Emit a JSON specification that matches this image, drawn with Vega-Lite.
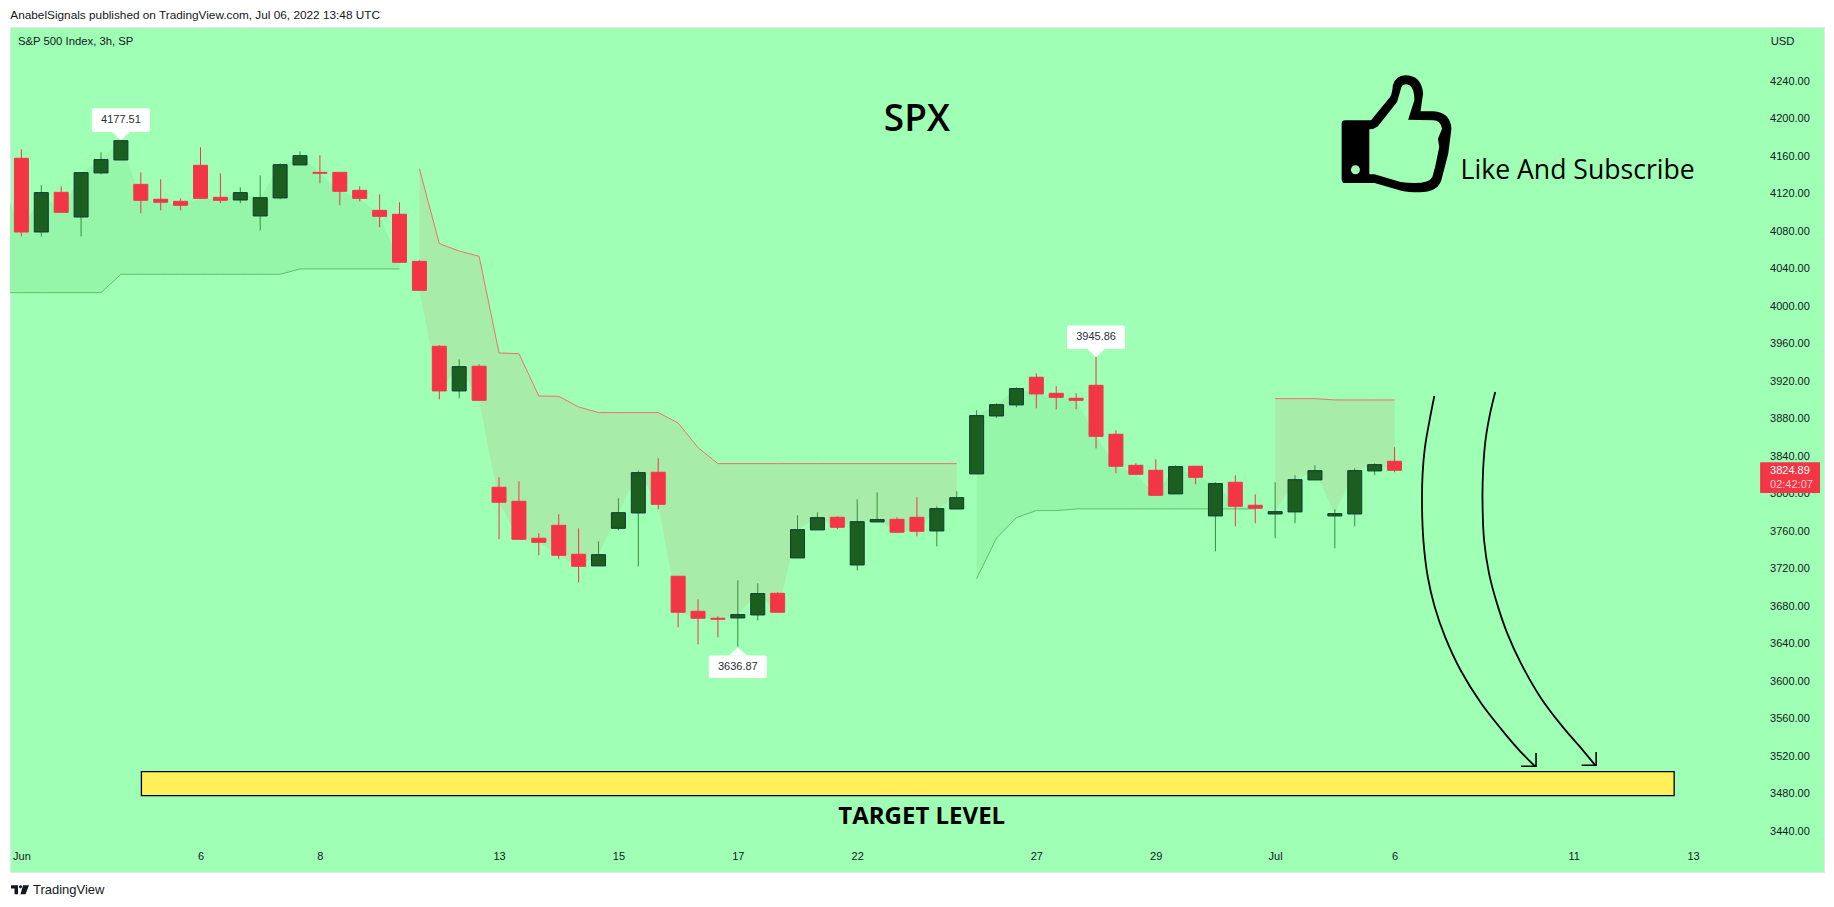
{"$schema":"https://vega.github.io/schema/vega-lite/v6.json","width":1814,"height":845,"autosize":{"type":"none"},"padding":{"left":10,"top":27,"right":10,"bottom":35},"background":"#ffffff","view":{"fill":"#9fffb5","stroke":"#e4e7ea"},
"datasets":{
"candles":[
{"i":0,"o":4157.6,"h":4167.2,"l":4074.4,"c":4079.0,"dir":"down"},{"i":1,"o":4079.0,"h":4128.8,"l":4074.4,"c":4121.0,"dir":"up"},{"i":2,"o":4121.3,"h":4127.7,"l":4100.0,"c":4100.0,"dir":"down"},{"i":3,"o":4095.0,"h":4142.3,"l":4074.4,"c":4142.3,"dir":"up"},{"i":4,"o":4142.0,"h":4164.0,"l":4140.5,"c":4156.2,"dir":"up"},{"i":5,"o":4155.8,"h":4177.51,"l":4155.8,"c":4176.4,"dir":"up"},{"i":6,"o":4129.8,"h":4142.6,"l":4098.9,"c":4112.8,"dir":"down"},{"i":7,"o":4113.9,"h":4135.2,"l":4102.1,"c":4110.7,"dir":"down"},{"i":8,"o":4111.7,"h":4114.9,"l":4102.1,"c":4107.5,"dir":"down"},{"i":9,"o":4150.1,"h":4169.3,"l":4114.9,"c":4114.9,"dir":"down"},{"i":10,"o":4116.0,"h":4141.6,"l":4109.6,"c":4112.8,"dir":"down"},{"i":11,"o":4113.1,"h":4126.6,"l":4109.6,"c":4121.0,"dir":"up"},{"i":12,"o":4096.1,"h":4139.4,"l":4080.8,"c":4115.6,"dir":"up"},{"i":13,"o":4115.3,"h":4152.2,"l":4113.9,"c":4150.8,"dir":"up"},{"i":14,"o":4150.5,"h":4165.0,"l":4150.5,"c":4160.4,"dir":"up"},{"i":15,"o":4142.6,"h":4160.8,"l":4130.9,"c":4141.6,"dir":"down"},{"i":16,"o":4142.6,"h":4142.6,"l":4107.5,"c":4122.4,"dir":"down"},{"i":17,"o":4123.4,"h":4127.7,"l":4111.7,"c":4114.9,"dir":"down"},{"i":18,"o":4102.1,"h":4119.2,"l":4084.0,"c":4095.7,"dir":"down"},{"i":19,"o":4097.9,"h":4110.7,"l":4046.7,"c":4046.7,"dir":"down"},{"i":20,"o":4047.7,"h":4048.8,"l":4016.8,"c":4016.8,"dir":"down"},
{"i":21,"o":3957.1,"h":3958.2,"l":3900.6,"c":3909.5,"dir":"down"},{"i":22,"o":3909.5,"h":3943.2,"l":3901.7,"c":3935.4,"dir":"up"},{"i":23,"o":3935.8,"h":3937.9,"l":3899.5,"c":3899.5,"dir":"down"},{"i":24,"o":3806.8,"h":3817.4,"l":3751.3,"c":3790.8,"dir":"down"},{"i":25,"o":3791.8,"h":3813.1,"l":3751.3,"c":3751.3,"dir":"down"},{"i":26,"o":3752.4,"h":3757.7,"l":3734.2,"c":3748.1,"dir":"down"},{"i":27,"o":3766.2,"h":3778.0,"l":3730.0,"c":3734.2,"dir":"down"},{"i":28,"o":3735.3,"h":3763.0,"l":3705.4,"c":3722.5,"dir":"down"},{"i":29,"o":3722.9,"h":3749.2,"l":3722.9,"c":3734.9,"dir":"up"},{"i":30,"o":3763.0,"h":3795.0,"l":3760.9,"c":3779.7,"dir":"up"},{"i":31,"o":3779.4,"h":3824.9,"l":3722.5,"c":3822.4,"dir":"up"},{"i":32,"o":3822.8,"h":3837.7,"l":3783.3,"c":3788.6,"dir":"down"},{"i":33,"o":3711.9,"h":3711.9,"l":3657.5,"c":3673.5,"dir":"down"},{"i":34,"o":3674.5,"h":3687.3,"l":3639.3,"c":3667.1,"dir":"down"},{"i":35,"o":3667.1,"h":3669.2,"l":3646.8,"c":3666.0,"dir":"down"},{"i":36,"o":3667.4,"h":3707.6,"l":3636.87,"c":3671.0,"dir":"up"},{"i":37,"o":3670.6,"h":3704.4,"l":3664.9,"c":3693.4,"dir":"up"},{"i":38,"o":3693.7,"h":3694.8,"l":3673.5,"c":3673.5,"dir":"down"},{"i":39,"o":3731.4,"h":3776.9,"l":3731.4,"c":3761.6,"dir":"up"},{"i":40,"o":3761.3,"h":3780.1,"l":3761.3,"c":3774.4,"dir":"up"},{"i":41,"o":3774.8,"h":3775.8,"l":3762.0,"c":3764.1,"dir":"down"},{"i":42,"o":3723.9,"h":3794.0,"l":3718.2,"c":3770.1,"dir":"up"},{"i":43,"o":3769.8,"h":3801.4,"l":3769.8,"c":3772.3,"dir":"up"},{"i":44,"o":3772.6,"h":3774.8,"l":3758.8,"c":3758.8,"dir":"down"},{"i":45,"o":3774.8,"h":3796.1,"l":3754.5,"c":3759.8,"dir":"down"},{"i":46,"o":3760.2,"h":3786.5,"l":3743.8,"c":3784.0,"dir":"up"},{"i":47,"o":3783.6,"h":3802.5,"l":3783.6,"c":3795.7,"dir":"up"},
{"i":48,"o":3821.0,"h":3888.9,"l":3821.0,"c":3883.2,"dir":"up"},{"i":49,"o":3882.8,"h":3896.3,"l":3880.7,"c":3894.9,"dir":"up"},{"i":50,"o":3894.6,"h":3913.4,"l":3892.1,"c":3912.0,"dir":"up"},{"i":51,"o":3924.1,"h":3928.3,"l":3891.0,"c":3906.3,"dir":"down"},{"i":52,"o":3907.0,"h":3914.5,"l":3889.9,"c":3902.7,"dir":"down"},{"i":53,"o":3901.7,"h":3907.0,"l":3889.9,"c":3899.5,"dir":"down"},{"i":54,"o":3915.5,"h":3945.86,"l":3848.3,"c":3861.1,"dir":"down"},{"i":55,"o":3863.3,"h":3867.5,"l":3821.7,"c":3829.2,"dir":"down"},{"i":56,"o":3830.2,"h":3832.4,"l":3820.6,"c":3820.6,"dir":"down"},{"i":57,"o":3824.9,"h":3836.6,"l":3798.2,"c":3798.2,"dir":"down"},{"i":58,"o":3799.7,"h":3830.2,"l":3799.7,"c":3828.8,"dir":"up"},{"i":59,"o":3829.2,"h":3829.2,"l":3810.0,"c":3817.4,"dir":"down"},{"i":60,"o":3776.2,"h":3812.1,"l":3738.5,"c":3810.7,"dir":"up"},{"i":61,"o":3812.1,"h":3819.6,"l":3765.2,"c":3786.5,"dir":"down"},{"i":62,"o":3787.6,"h":3799.3,"l":3768.4,"c":3784.4,"dir":"down"},{"i":63,"o":3778.3,"h":3812.1,"l":3752.4,"c":3780.8,"dir":"up"},{"i":64,"o":3780.5,"h":3819.6,"l":3768.4,"c":3814.9,"dir":"up"},{"i":65,"o":3814.6,"h":3830.2,"l":3814.6,"c":3824.5,"dir":"up"},{"i":66,"o":3776.2,"h":3783.3,"l":3741.7,"c":3778.7,"dir":"up"},{"i":67,"o":3778.3,"h":3827.0,"l":3765.2,"c":3824.5,"dir":"up"},{"i":68,"o":3824.2,"h":3832.4,"l":3819.6,"c":3830.9,"dir":"up"},{"i":69,"o":3834.5,"h":3849.4,"l":3822.8,"c":3824.89,"dir":"down"}],
"bands":[
{"i":-0.573,"st":4014.3,"close":4110,"seg":1,"trend":"up"},{"i":0,"st":4014.3,"close":4079.0,"seg":1,"trend":"up"},{"i":1,"st":4014.3,"close":4121.0,"seg":1,"trend":"up"},{"i":2,"st":4014.3,"close":4100.0,"seg":1,"trend":"up"},{"i":3,"st":4014.3,"close":4142.3,"seg":1,"trend":"up"},{"i":4,"st":4014.3,"close":4156.2,"seg":1,"trend":"up"},{"i":5,"st":4033.9,"close":4176.4,"seg":1,"trend":"up"},{"i":6,"st":4033.9,"close":4112.8,"seg":1,"trend":"up"},{"i":7,"st":4033.9,"close":4110.7,"seg":1,"trend":"up"},{"i":8,"st":4033.9,"close":4107.5,"seg":1,"trend":"up"},{"i":9,"st":4033.9,"close":4114.9,"seg":1,"trend":"up"},{"i":10,"st":4033.9,"close":4112.8,"seg":1,"trend":"up"},{"i":11,"st":4033.9,"close":4121.0,"seg":1,"trend":"up"},{"i":12,"st":4033.9,"close":4115.6,"seg":1,"trend":"up"},{"i":13,"st":4033.9,"close":4150.8,"seg":1,"trend":"up"},{"i":14,"st":4039.6,"close":4160.4,"seg":1,"trend":"up"},{"i":15,"st":4039.6,"close":4141.6,"seg":1,"trend":"up"},{"i":16,"st":4039.6,"close":4122.4,"seg":1,"trend":"up"},{"i":17,"st":4039.6,"close":4114.9,"seg":1,"trend":"up"},{"i":18,"st":4039.6,"close":4095.7,"seg":1,"trend":"up"},{"i":19,"st":4039.6,"close":4046.7,"seg":1,"trend":"up"},
{"i":20,"st":4146.5,"close":4016.8,"seg":2,"trend":"down"},{"i":21,"st":4066.6,"close":3909.5,"seg":2,"trend":"down"},{"i":22,"st":4058.7,"close":3935.4,"seg":2,"trend":"down"},{"i":23,"st":4053.1,"close":3899.5,"seg":2,"trend":"down"},{"i":24,"st":3950.0,"close":3790.8,"seg":2,"trend":"down"},{"i":25,"st":3949.3,"close":3751.3,"seg":2,"trend":"down"},{"i":26,"st":3904.1,"close":3748.1,"seg":2,"trend":"down"},{"i":27,"st":3903.8,"close":3734.2,"seg":2,"trend":"down"},{"i":28,"st":3892.4,"close":3722.5,"seg":2,"trend":"down"},{"i":29,"st":3886.4,"close":3734.9,"seg":2,"trend":"down"},{"i":30,"st":3886.4,"close":3779.7,"seg":2,"trend":"down"},{"i":31,"st":3886.4,"close":3822.4,"seg":2,"trend":"down"},{"i":32,"st":3886.4,"close":3788.6,"seg":2,"trend":"down"},{"i":33,"st":3875.3,"close":3673.5,"seg":2,"trend":"down"},{"i":34,"st":3849.0,"close":3667.1,"seg":2,"trend":"down"},{"i":35,"st":3832.0,"close":3666.0,"seg":2,"trend":"down"},{"i":36,"st":3832.0,"close":3671.0,"seg":2,"trend":"down"},{"i":37,"st":3832.0,"close":3693.4,"seg":2,"trend":"down"},{"i":38,"st":3832.0,"close":3673.5,"seg":2,"trend":"down"},{"i":39,"st":3832.0,"close":3761.6,"seg":2,"trend":"down"},{"i":40,"st":3832.0,"close":3774.4,"seg":2,"trend":"down"},{"i":41,"st":3832.0,"close":3764.1,"seg":2,"trend":"down"},{"i":42,"st":3832.0,"close":3770.1,"seg":2,"trend":"down"},{"i":43,"st":3832.0,"close":3772.3,"seg":2,"trend":"down"},{"i":44,"st":3832.0,"close":3758.8,"seg":2,"trend":"down"},{"i":45,"st":3832.0,"close":3759.8,"seg":2,"trend":"down"},{"i":46,"st":3832.0,"close":3784.0,"seg":2,"trend":"down"},{"i":47,"st":3832.0,"close":3795.7,"seg":2,"trend":"down"},
{"i":48,"st":3709.4,"close":3883.2,"seg":3,"trend":"up"},{"i":49,"st":3752.7,"close":3894.9,"seg":3,"trend":"up"},{"i":50,"st":3774.4,"close":3912.0,"seg":3,"trend":"up"},{"i":51,"st":3781.9,"close":3906.3,"seg":3,"trend":"up"},{"i":52,"st":3781.9,"close":3902.7,"seg":3,"trend":"up"},{"i":53,"st":3783.7,"close":3899.5,"seg":3,"trend":"up"},{"i":54,"st":3783.7,"close":3861.1,"seg":3,"trend":"up"},{"i":55,"st":3783.7,"close":3829.2,"seg":3,"trend":"up"},{"i":56,"st":3783.7,"close":3820.6,"seg":3,"trend":"up"},{"i":57,"st":3783.7,"close":3798.2,"seg":3,"trend":"up"},{"i":58,"st":3783.7,"close":3828.8,"seg":3,"trend":"up"},{"i":59,"st":3783.7,"close":3817.4,"seg":3,"trend":"up"},{"i":60,"st":3783.7,"close":3810.7,"seg":3,"trend":"up"},{"i":61,"st":3783.7,"close":3786.5,"seg":3,"trend":"up"},{"i":62,"st":3783.7,"close":3784.4,"seg":3,"trend":"up"},
{"i":63,"st":3901.3,"close":3780.8,"seg":4,"trend":"down"},{"i":64,"st":3901.3,"close":3814.9,"seg":4,"trend":"down"},{"i":65,"st":3901.3,"close":3824.5,"seg":4,"trend":"down"},{"i":66,"st":3899.9,"close":3778.7,"seg":4,"trend":"down"},{"i":67,"st":3899.9,"close":3824.5,"seg":4,"trend":"down"},{"i":68,"st":3899.9,"close":3830.9,"seg":4,"trend":"down"},{"i":69,"st":3899.9,"close":3823.8,"seg":4,"trend":"down"}],
"callouts":[{"i":5,"i1":3.54,"i2":6.46,"v1":4185.6,"v2":4210.9,"vm":4198.2,"edge":4185.6,"dir":"dn","text":"4177.51"},{"i":54,"i1":52.54,"i2":55.46,"v1":3954.2,"v2":3979.2,"vm":3966.7,"edge":3954.2,"dir":"dn","text":"3945.86"},{"i":36,"i1":34.54,"i2":37.46,"v1":3603.4,"v2":3627.3,"vm":3615.3,"edge":3627.3,"dir":"up","text":"3636.87"}],
"arrows":[
{"a":"L1","k":0,"i":71.0,"v":3904.1},{"a":"L1","k":1,"i":70.76,"v":3878.2},{"a":"L1","k":2,"i":70.53,"v":3849.8},{"a":"L1","k":3,"i":70.41,"v":3821.3},{"a":"L1","k":4,"i":70.38,"v":3789.3},{"a":"L1","k":5,"i":70.45,"v":3750.2},{"a":"L1","k":6,"i":70.67,"v":3711.1},{"a":"L1","k":7,"i":71.02,"v":3679.2},{"a":"L1","k":8,"i":71.54,"v":3647.2},{"a":"L1","k":9,"i":72.32,"v":3611.6},{"a":"L1","k":10,"i":73.36,"v":3576.1},{"a":"L1","k":11,"i":74.41,"v":3547.6},{"a":"L1","k":12,"i":75.27,"v":3526.3},{"a":"L1","k":13,"i":76.06,"v":3509.2},
{"a":"L2","k":0,"i":74.06,"v":3908.4},{"a":"L2","k":1,"i":73.8,"v":3885.3},{"a":"L2","k":2,"i":73.57,"v":3856.9},{"a":"L2","k":3,"i":73.45,"v":3824.9},{"a":"L2","k":4,"i":73.42,"v":3792.9},{"a":"L2","k":5,"i":73.5,"v":3750.2},{"a":"L2","k":6,"i":73.75,"v":3714.7},{"a":"L2","k":7,"i":74.15,"v":3682.7},{"a":"L2","k":8,"i":74.67,"v":3650.7},{"a":"L2","k":9,"i":75.36,"v":3618.7},{"a":"L2","k":10,"i":76.32,"v":3583.2},{"a":"L2","k":11,"i":77.45,"v":3551.2},{"a":"L2","k":12,"i":78.32,"v":3529.9},{"a":"L2","k":13,"i":79.1,"v":3509.9}],
"heads":[{"a":"H1","k":0,"i":75.36,"v":3509.2},{"a":"H1","k":1,"i":76.11,"v":3509.2},{"a":"H1","k":2,"i":76.11,"v":3523.5},
{"a":"H2","k":0,"i":78.4,"v":3510.3},{"a":"H2","k":1,"i":79.13,"v":3510.3},{"a":"H2","k":2,"i":79.13,"v":3524.5}]
},
"encoding":{"x":{"field":"i","type":"quantitative","scale":{"domain":[-0.573,90.58],"nice":false,"zero":false,"padding":0},"axis":{"orient":"bottom","title":null,"domain":false,"ticks":false,"grid":false,"values":[0,9,15,24,30,36,42,51,57,63,69,78,84],"labelExpr":"{'0':'Jun','9':'6','15':'8','24':'13','30':'15','36':'17','42':'22','51':'27','57':'29','63':'Jul','69':'6','78':'11','84':'13'}[datum.value]","labelFont":"Liberation Sans","labelFontSize":11,"labelColor":"#131722","labelPadding":0,"labelBaseline":"middle","offset":-16,"labelFlush":false}}},
"layer":[
{"data":{"name":"bands"},"mark":{"type":"area","interpolate":"linear"},"encoding":{"y":{"field":"st","type":"quantitative","scale":{"domain":[3396.5,4297.6],"nice":false,"zero":false},"axis":{"orient":"right","title":null,"domain":false,"ticks":false,"grid":false,"values":[3440,3480,3520,3560,3600,3640,3680,3720,3760,3800,3840,3880,3920,3960,4000,4040,4080,4120,4160,4200,4240],"format":".2f","labelFont":"Liberation Sans","labelFontSize":11,"labelColor":"#131722","labelPadding":0,"labelAlign":"right","offset":-14.7}},"y2":{"field":"close"},"detail":{"field":"seg"},"color":{"field":"trend","type":"nominal","scale":{"domain":["up","down"],"range":["#95f5a8","#a8ecaa"]},"legend":null}}},
{"data":{"name":"bands"},"mark":{"type":"line","strokeWidth":1,"interpolate":"linear"},"encoding":{"y":{"field":"st","type":"quantitative"},"detail":{"field":"seg"},"color":{"field":"trend","type":"nominal","scale":{"domain":["up","down"],"range":["#5fbf6a","#f2706f"]},"legend":null}}},
{"data":{"values":[{"i":6.03,"i2":83.05,"v":3503.6,"v2":3478}]},"mark":{"type":"rect","fill":"#fff05a","stroke":"#000000","strokeWidth":1.3},"encoding":{"x":{"field":"i","type":"quantitative"},"x2":{"field":"i2"},"y":{"field":"v","type":"quantitative"},"y2":{"field":"v2"}}},
{"data":{"name":"candles"},"mark":{"type":"rule","strokeWidth":1},"encoding":{"y":{"field":"l","type":"quantitative"},"y2":{"field":"h"},"color":{"field":"dir","type":"nominal","scale":{"domain":["up","down"],"range":["#388e3c","#f23645"]},"legend":null}}},
{"data":{"name":"candles"},"mark":{"type":"bar","size":14,"strokeWidth":1,"orient":"vertical"},"encoding":{"y":{"field":"o","type":"quantitative"},"y2":{"field":"c"},"fill":{"field":"dir","type":"nominal","scale":{"domain":["up","down"],"range":["#1b5e20","#f23645"]},"legend":null},"stroke":{"field":"dir","type":"nominal","scale":{"domain":["up","down"],"range":["#0f3d2e","#f23645"]},"legend":null}}},
{"data":{"name":"arrows"},"mark":{"type":"line","stroke":"#000000","strokeWidth":1.8,"interpolate":"catmull-rom"},"encoding":{"x":{"field":"i","type":"quantitative"},"y":{"field":"v","type":"quantitative"},"detail":{"field":"a"},"order":{"field":"k"}}},
{"data":{"name":"heads"},"mark":{"type":"line","stroke":"#000000","strokeWidth":1.6,"interpolate":"linear"},"encoding":{"x":{"field":"i","type":"quantitative"},"y":{"field":"v","type":"quantitative"},"detail":{"field":"a"},"order":{"field":"k"}}},
{"data":{"name":"callouts"},"mark":{"type":"rect","fill":"#ffffff","cornerRadius":2},"encoding":{"x":{"field":"i1","type":"quantitative"},"x2":{"field":"i2"},"y":{"field":"v1","type":"quantitative"},"y2":{"field":"v2"}}},
{"data":{"name":"callouts"},"mark":{"type":"point","filled":true,"fill":"#ffffff","opacity":1,"size":324,"strokeWidth":0},"encoding":{"y":{"field":"edge","type":"quantitative"},"shape":{"field":"dir","type":"nominal","scale":{"domain":["dn","up"],"range":["M-1,0L0,0.9L1,0Z","M-1,0L0,-0.9L1,0Z"]},"legend":null}}},
{"data":{"name":"callouts"},"mark":{"type":"text","font":"Liberation Sans","fontSize":11,"fill":"#2a2e39"},"encoding":{"y":{"field":"vm","type":"quantitative"},"text":{"field":"text"}}},
{"data":{"values":[{"i":87.37,"i2":90.38,"v":3833.4,"v2":3800.6}]},"mark":{"type":"rect","fill":"#f23645"},"encoding":{"x":{"field":"i","type":"quantitative"},"x2":{"field":"i2"},"y":{"field":"v","type":"quantitative"},"y2":{"field":"v2"}}},
{"data":{"values":[{"i":87.87,"v":3824.5,"t":"3824.89"}]},"mark":{"type":"text","font":"Liberation Sans","fontSize":11,"align":"left","fill":"#ffffff"},"encoding":{"x":{"field":"i","type":"quantitative"},"y":{"field":"v","type":"quantitative"},"text":{"field":"t"}}},
{"data":{"values":[{"i":87.87,"v":3809,"t":"02:42:07"}]},"mark":{"type":"text","font":"Liberation Sans","fontSize":11,"align":"left","fill":"#ffc9cd"},"encoding":{"x":{"field":"i","type":"quantitative"},"y":{"field":"v","type":"quantitative"},"text":{"field":"t"}}},
{"data":{"values":[{"i":-0.557,"v":4310.4,"t":"AnabelSignals published on TradingView.com, Jul 06, 2022 13:48 UTC"}]},"mark":{"type":"text","font":"Liberation Sans","fontSize":11.8,"align":"left","fill":"#131722"},"encoding":{"x":{"field":"i","type":"quantitative"},"y":{"field":"v","type":"quantitative"},"text":{"field":"t"}}},
{"data":{"values":[{"i":-0.17,"v":4281.3,"t":"S&P 500 Index, 3h, SP"},{"i":87.9,"v":4281.8,"t":"USD"}]},"mark":{"type":"text","font":"Liberation Sans","fontSize":11.3,"align":"left","fill":"#131722"},"encoding":{"x":{"field":"i","type":"quantitative"},"y":{"field":"v","type":"quantitative"},"text":{"field":"t"}}},
{"data":{"values":[{"i":0.58,"v":3377,"t":"TradingView"}]},"mark":{"type":"text","font":"Liberation Sans","fontSize":13,"align":"left","fill":"#131722"},"encoding":{"x":{"field":"i","type":"quantitative"},"y":{"field":"v","type":"quantitative"},"text":{"field":"t"}}},
{"data":{"values":[{"i":45.0,"v":4198.7,"t":"SPX"}]},"mark":{"type":"text","font":"Open Sans","fontSize":37,"fontWeight":600,"fill":"#000000"},"encoding":{"x":{"field":"i","type":"quantitative"},"y":{"field":"v","type":"quantitative"},"text":{"field":"t"}}},
{"data":{"values":[{"i":72.32,"v":4143.8,"t":"Like And Subscribe"}]},"mark":{"type":"text","font":"Open Sans","fontSize":26.6,"align":"left","fill":"#000000"},"encoding":{"x":{"field":"i","type":"quantitative"},"y":{"field":"v","type":"quantitative"},"text":{"field":"t"}}},
{"data":{"values":[{"i":45.24,"v":3455.5,"t":"TARGET LEVEL"}]},"mark":{"type":"text","font":"Open Sans","fontSize":24,"fontWeight":700,"fill":"#000000"},"encoding":{"x":{"field":"i","type":"quantitative"},"y":{"field":"v","type":"quantitative"},"text":{"field":"t"}}},
{"data":{"values":[{"i":69.09,"v":4184.2}]},"mark":{"type":"point","filled":true,"fill":"#000000","opacity":1,"strokeWidth":0,"size":40000,"shape":"M-0.512,-0.13L-0.253,-0.13L-0.062,-0.363Q-0.04,-0.4 -0.035,-0.48Q-0.01,-0.575 0.09,-0.58Q0.25,-0.58 0.268,-0.4L0.242,-0.22L0.37,-0.22Q0.54,-0.21 0.551,-0.047L0.519,0.203L0.45,0.47Q0.41,0.59 0.232,0.59Q0.12,0.59 0.059,0.577L-0.218,0.497L-0.512,0.497Q-0.547,0.497 -0.547,0.453L-0.547,-0.097Q-0.547,-0.13 -0.512,-0.13ZM-0.27,-0.04L-0.27,0.41L-0.218,0.41L0.042,0.487Q0.12,0.497 0.18,0.497Q0.33,0.497 0.36,0.437L0.388,0.337L0.429,0.137L0.416,0.053L0.457,-0.047Q0.44,-0.13 0.37,-0.13L0.118,-0.137L0.18,-0.33Q0.18,-0.49 0.093,-0.49Q0.05,-0.49 0.042,-0.43L0.007,-0.313L-0.184,-0.07Q-0.22,-0.04 -0.27,-0.04ZM-0.364,0.363A0.045,0.045 0 1 0 -0.454,0.363A0.045,0.045 0 1 0 -0.364,0.363Z"},"encoding":{"x":{"field":"i","type":"quantitative"},"y":{"field":"v","type":"quantitative"}}},
{"data":{"values":[{"i":-0.07,"v":3377.5}]},"mark":{"type":"point","filled":true,"fill":"#131722","opacity":1,"strokeWidth":0,"size":4,"shape":"M-9,-4.5L-2,-4.5L-2,4.5L-5.5,4.5L-5.5,-1.2L-9,-1.2ZM3,-4.5L9,-4.5L5.5,4.5L0.5,4.5ZM-1,-3A1.5,1.5 0 1 0 2,-3A1.5,1.5 0 1 0 -1,-3Z"},"encoding":{"x":{"field":"i","type":"quantitative"},"y":{"field":"v","type":"quantitative"}}}
],
"resolve":{"scale":{"color":"independent","fill":"independent","stroke":"independent"}}}
